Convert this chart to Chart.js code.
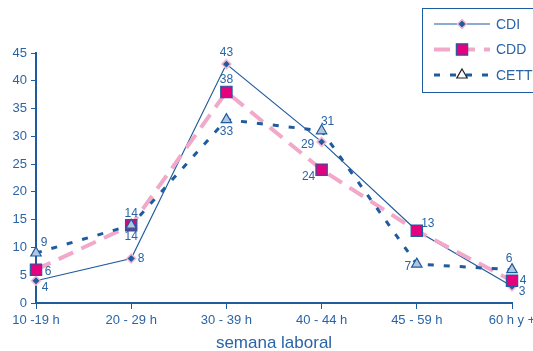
<!DOCTYPE html>
<html>
<head>
<meta charset="utf-8">
<script src="https://cdn.jsdelivr.net/npm/chart.js@4.4.1/dist/chart.umd.min.js"></script>
<style>
  html, body { margin: 0; padding: 0; background: #fff; overflow: hidden; }
  #wrap { width: 560px; height: 351px; }
</style>
</head>
<body>
<div id="wrap"><canvas id="chart" width="560" height="351"></canvas></div>
<script>
// data
const categories = ['10 -19 h', '20 - 29 h', '30 - 39 h', '40 - 44 h', '45 - 59 h', '60 h y +'];
const cdi = [4, 8, 43, 29, 13, 3];
const cdd = [6, 14, 38, 24, 13, 4];
const cett = [9, 14, 33, 31, 7, 6];

const blue = '#1f5b9f';
const textBlue = '#2b64a6';
const pink = '#f2a9c9';
const magenta = '#e5007d';

// where each value label sits relative to its point (null = no label)
const labelOffsets = [
    [[9, 7], [10, 0], [0, -11], [-14, 3], null, [10, 5]],
    [[12, 2], [0, -12], [0, -12], [-13, 7], [11, -7], [11, 0]],
    [[8, -10], [0, 11], [0, 12], [6, -9], [-9, 3], [-3, -11]]
];

// legend marker fills differ a little from the plotted ones
const legendFill = ['#1f5b9f', '#e5007d', '#ffffff'];
const legendStroke = ['#f4b8d4', '#1f5b9f', '#222222'];

const valueLabels = {
    id: 'valueLabels',
    afterDatasetsDraw(chart) {
        const ctx = chart.ctx;
        ctx.save();
        ctx.font = '12px "Liberation Sans", Arial, sans-serif';
        ctx.fillStyle = textBlue;
        ctx.textAlign = 'center';
        ctx.textBaseline = 'middle';
        chart.data.datasets.forEach((ds, i) => {
            chart.getDatasetMeta(i).data.forEach((pt, j) => {
                const off = labelOffsets[i][j];
                if (!off) return;
                ctx.fillText(ds.data[j], pt.x + off[0], pt.y + off[1]);
            });
        });
        ctx.restore();
    }
};

// boxed legend in the top right corner, line + marker + line
const boxLegend = {
    id: 'boxLegend',
    afterDraw(chart) {
        const ctx = chart.ctx;
        ctx.save();
        ctx.strokeStyle = blue;
        ctx.lineWidth = 1;
        ctx.strokeRect(422.5, 8.5, 140, 84);
        ctx.font = '14px "Liberation Sans", Arial, sans-serif';
        ctx.textBaseline = 'middle';
        ctx.textAlign = 'left';
        chart.data.datasets.forEach((ds, i) => {
            const y = 24 + i * 25.5;
            ctx.save();
            ctx.strokeStyle = ds.borderColor;
            ctx.lineWidth = ds.borderWidth;
            ctx.setLineDash(ds.borderDash || []);
            ctx.beginPath();
            ctx.moveTo(434, y);
            ctx.lineTo(490, y);
            ctx.stroke();
            ctx.restore();

            ctx.save();
            ctx.fillStyle = legendFill[i];
            ctx.strokeStyle = legendStroke[i];
            ctx.lineWidth = ds.pointBorderWidth;
            Chart.helpers.drawPoint(ctx, {
                pointStyle: ds.pointStyle,
                radius: ds.pointRadius,
                rotation: 0,
                borderWidth: ds.pointBorderWidth
            }, 462, y);
            ctx.restore();

            ctx.fillStyle = textBlue;
            ctx.fillText(ds.label, 496, y + 1);
        });
        ctx.restore();
    }
};

new Chart(document.getElementById('chart'), {
    type: 'line',
    data: {
        labels: categories,
        datasets: [{
            label: 'CDI',
            data: cdi,
            borderColor: blue,
            borderWidth: 1.2,
            pointStyle: 'rectRot',
            pointRadius: 4.5,
            pointBackgroundColor: blue,
            pointBorderColor: '#f4b8d4',
            pointBorderWidth: 1.5,
            tension: 0,
            order: 3
        }, {
            label: 'CDD',
            data: cdd,
            borderColor: pink,
            borderWidth: 4,
            borderDash: [16, 9],
            pointStyle: 'rect',
            pointRadius: 8,
            pointBackgroundColor: magenta,
            pointBorderColor: blue,
            pointBorderWidth: 1.2,
            tension: 0,
            order: 2
        }, {
            label: 'CETT',
            data: cett,
            borderColor: blue,
            borderWidth: 3,
            borderDash: [6, 10],
            pointStyle: 'triangle',
            pointRadius: 6,
            pointBackgroundColor: '#b3c6e0',
            pointBorderColor: blue,
            pointBorderWidth: 1.2,
            tension: 0,
            order: 1
        }]
    },
    options: {
        responsive: false,
        animation: false,
        layout: { padding: { top: 53, right: 48, bottom: 0, left: 0 } },
        plugins: {
            legend: { display: false },
            tooltip: { enabled: false }
        },
        scales: {
            x: {
                offset: false,
                border: { color: blue, width: 2 },
                grid: { display: true, drawOnChartArea: false, color: blue, tickLength: 6 },
                ticks: {
                    color: textBlue,
                    font: { family: '"Liberation Sans", Arial, sans-serif', size: 13 },
                    maxRotation: 0,
                    autoSkip: false,
                    padding: 4
                },
                title: {
                    display: true,
                    text: 'semana laboral',
                    color: textBlue,
                    font: { family: '"Liberation Sans", Arial, sans-serif', size: 17, lineHeight: 1 },
                    padding: { top: 4, bottom: -1 }
                },
                afterFit(scale) { scale.height = 48; }
            },
            y: {
                min: 0,
                max: 45,
                border: { color: blue, width: 2 },
                grid: { display: true, drawOnChartArea: false, color: blue, tickLength: 5 },
                ticks: {
                    stepSize: 5,
                    color: textBlue,
                    font: { family: '"Liberation Sans", Arial, sans-serif', size: 13 },
                    padding: 4
                },
                afterFit(scale) { scale.width = 36; }
            }
        }
    },
    plugins: [valueLabels, boxLegend]
});
</script>
</body>
</html>
